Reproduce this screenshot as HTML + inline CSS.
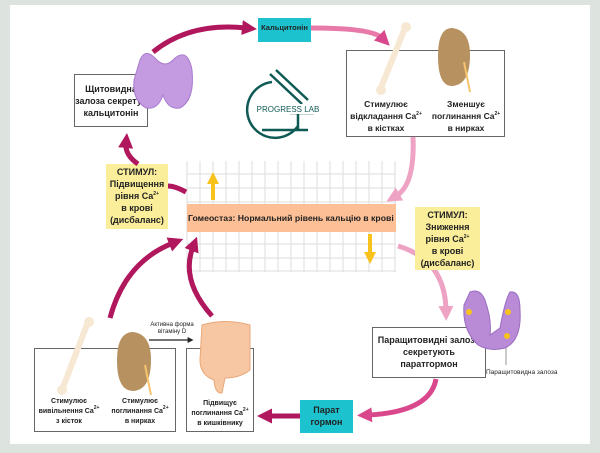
<!DOCTYPE html>
<html><head><meta charset="utf-8"><style>
*{margin:0;padding:0;box-sizing:border-box}
body{width:600px;height:453px;background:#dde4e0;position:relative;overflow:hidden;font-family:"Liberation Sans","DejaVu Sans",sans-serif;font-weight:bold;color:#222}
.card{position:absolute;left:10px;top:5px;width:580px;height:439px;background:#fff}
.box{position:absolute;border:1.5px solid #666;background:#fff}
.t{position:absolute;text-align:center;font-size:9px;line-height:12px}
.y{position:absolute;background:#fbee9a;text-align:center;font-size:9px;line-height:12px;padding-top:2px}
.c{position:absolute;background:#1cc3cf;text-align:center;font-size:8.5px;line-height:12px}
svg{position:absolute;left:0;top:0}
sup{font-size:5px;line-height:0;vertical-align:4px}
</style></head><body>
<div class="card"></div>
<svg width="600" height="453">
<g stroke="#ddd" stroke-width="1">
<path d="M187 161V272M200 161V272M213 161V272M226 161V272M239 161V272M252 161V272M265 161V272M278 161V272M291 161V272M304 161V272M317 161V272M330 161V272M343 161V272M356 161V272M369 161V272M382 161V272M395 161V272"/>
<path d="M187 174H396M187 188H396M187 202H396M187 244H396M187 258H396M187 271H396"/>
</g>
</svg>
<div class="box" style="left:74px;top:74px;width:74px;height:53px"></div>
<div class="t" style="left:74px;top:83px;width:74px">Щитовидна<br>залоза секретує<br>кальцитонін</div>
<div class="box" style="left:346px;top:50px;width:159px;height:87px"></div>
<div class="t" style="left:346px;top:98px;width:80px;font-size:8.5px">Стимулює<br>відкладання Ca<sup>2+</sup><br>в кістках</div>
<div class="t" style="left:426px;top:98px;width:80px;font-size:8.5px">Зменшує<br>поглинання Ca<sup>2+</sup><br>в нирках</div>
<div class="c" style="left:258px;top:18px;width:53px;height:24px;line-height:20px;font-size:7.5px">Кальцитонін</div>
<div class="y" style="left:106px;top:164px;width:62px;height:65px">СТИМУЛ:<br>Підвищення<br>рівня Ca<sup>2+</sup><br>в крові<br>(дисбаланс)</div>
<div style="position:absolute;left:187px;top:204px;width:209px;height:28px;background:#fdbf96;font-size:8.7px;line-height:28px;white-space:nowrap;padding-left:1px">Гомеостаз: Нормальний рівень кальцію в крові</div>
<div class="box" style="left:372px;top:327px;width:114px;height:51px"></div>
<div class="t" style="left:372px;top:334px;width:114px;font-size:9px">Паращитовидні залози<br>секретують<br>паратгормон</div>
<div class="t" style="left:486px;top:367px;width:90px;font-size:6.5px;font-weight:normal;text-align:left">Паращитовидна залоза</div>
<div class="c" style="left:300px;top:400px;width:53px;height:33px;padding-top:4px;font-size:9px">Парат<br>гормон</div>
<div class="box" style="left:34px;top:348px;width:142px;height:84px"></div>
<div class="t" style="left:34px;top:397px;width:70px;font-size:7px;line-height:10px">Стимулює<br>вивільнення Ca<sup>2+</sup><br>з кісток</div>
<div class="t" style="left:104px;top:397px;width:72px;font-size:7px;line-height:10px">Стимулює<br>поглинання Ca<sup>2+</sup><br>в нирках</div>
<div class="box" style="left:186px;top:348px;width:68px;height:84px"></div>
<div class="t" style="left:186px;top:399px;width:68px;font-size:7px;line-height:10px">Підвищує<br>поглинання Ca<sup>2+</sup><br>в кишківнику</div>
<div class="t" style="left:140px;top:322px;width:64px;font-size:6px;line-height:7px;font-weight:normal">Активна форма<br>вітаміну D</div>
<svg width="600" height="453">
<defs>
<marker id="m1" markerWidth="3" markerHeight="3" refX="0.8" refY="1.5" orient="auto" markerUnits="strokeWidth"><path d="M0 0L3 1.5L0 3Z" fill="#b0175d"/></marker>
<marker id="m2" markerWidth="3" markerHeight="3" refX="0.8" refY="1.5" orient="auto" markerUnits="strokeWidth"><path d="M0 0L3 1.5L0 3Z" fill="#eea3c4"/></marker>
<marker id="m3" markerWidth="3" markerHeight="3" refX="0.8" refY="1.5" orient="auto" markerUnits="strokeWidth"><path d="M0 0L3 1.5L0 3Z" fill="#d9488c"/></marker>
<marker id="m4" markerWidth="5" markerHeight="5" refX="2" refY="2.5" orient="auto" markerUnits="strokeWidth"><path d="M0 0L5 2.5L0 5Z" fill="#222"/></marker>
<marker id="my" markerWidth="3" markerHeight="3" refX="1" refY="1.5" orient="auto" markerUnits="strokeWidth"><path d="M0 0L3 1.5L0 3Z" fill="#f7c21c"/></marker>
</defs>
<g fill="none" stroke-width="5">
<path d="M153 52Q190 22 246 28" stroke="#b0175d" marker-end="url(#m1)"/>
<path d="M311 28Q372 28 382 38" stroke="#e77aa9" marker-end="url(#m3)"/>
<path d="M413 137Q415 185 396 196" stroke="#eea3c4" marker-end="url(#m2)"/>
<path d="M398 246Q445 260 446 310" stroke="#eea3c4" marker-end="url(#m2)"/>
<path d="M436 379Q430 412 368 415" stroke="#d9488c" marker-end="url(#m3)"/>
<path d="M300 416H268" stroke="#b0175d" marker-end="url(#m1)"/>
<path d="M212 316Q180 280 193 247" stroke="#b0175d" marker-end="url(#m1)"/>
<path d="M110 318Q125 262 173 243" stroke="#b0175d" marker-end="url(#m1)"/>
<path d="M186 192Q175 186 168 186" stroke="#b0175d"/>
<path d="M138 164Q125 155 126 144" stroke="#b0175d" marker-end="url(#m1)"/>
<path d="M213 200V180" stroke="#f7c21c" stroke-width="4" marker-end="url(#my)"/>
<path d="M370 234V256" stroke="#f7c21c" stroke-width="4" marker-end="url(#my)"/>
</g>
<path d="M149 340H190" stroke="#222" stroke-width="1.2" marker-end="url(#m4)"/>
<g stroke="#0f5a55" fill="none" stroke-width="2.5">
<path d="M272 82A28 28 0 1 0 298 126"/>
<path d="M270 74L302 104M276 70L308 100"/>
<path d="M262 130H308M290 113H314M298 113V130"/>
</g>
<rect x="262" y="104" width="52" height="10" fill="#fff"/>
<text x="288" y="112" font-size="8" font-weight="normal" fill="#0f5a55" text-anchor="middle" font-family="Liberation Sans">PROGRESS LAB</text>
<path d="M140 60Q145 48 155 58Q165 70 175 58Q188 48 192 70Q195 100 180 108Q168 110 163 95Q158 110 146 108Q132 100 134 80Z" fill="#c49be0" stroke="#a87bd0"/>
<path d="M405 28L380 90" stroke="#f6e8d2" stroke-width="6" stroke-linecap="round"/>
<circle cx="406" cy="27" r="5" fill="#f6e8d2"/><circle cx="381" cy="90" r="5" fill="#f6e8d2"/>
<path d="M452 28Q470 30 470 55Q470 85 452 86Q438 86 438 56Q438 28 452 28Z" fill="#b89160"/>
<path d="M464 62L470 92" stroke="#f5c46e" stroke-width="2"/>
<path d="M88 322L62 390" stroke="#f6e8d2" stroke-width="6" stroke-linecap="round"/>
<circle cx="89" cy="322" r="5" fill="#f6e8d2"/><circle cx="62" cy="390" r="5" fill="#f6e8d2"/>
<path d="M133 332Q151 334 151 360Q151 390 133 391Q117 391 117 360Q117 332 133 332Z" fill="#b89160"/>
<path d="M145 365L151 395" stroke="#f5c46e" stroke-width="2"/>
<path d="M202 325Q225 318 250 325L250 370Q240 378 225 378L222 393Q215 394 214 380Q200 375 200 360Z" fill="#f7c7a3" stroke="#e8a878"/>
<path d="M470 292Q480 288 485 300Q492 320 490 335L500 328Q505 300 510 292Q520 290 520 310Q522 340 505 348Q490 352 478 345Q462 330 464 305Z" fill="#b98ad6" stroke="#9a6cc2"/>
<circle cx="469" cy="312" r="3" fill="#f7c21c"/><circle cx="508" cy="312" r="3" fill="#f7c21c"/><circle cx="507" cy="336" r="3" fill="#f7c21c"/>
<path d="M506 348V365" stroke="#666" stroke-width="0.7"/>
</svg>
<div class="y" style="left:415px;top:207px;width:65px;height:63px">СТИМУЛ:<br>Зниження<br>рівня Ca<sup>2+</sup><br>в крові<br>(дисбаланс)</div>
</body></html>
